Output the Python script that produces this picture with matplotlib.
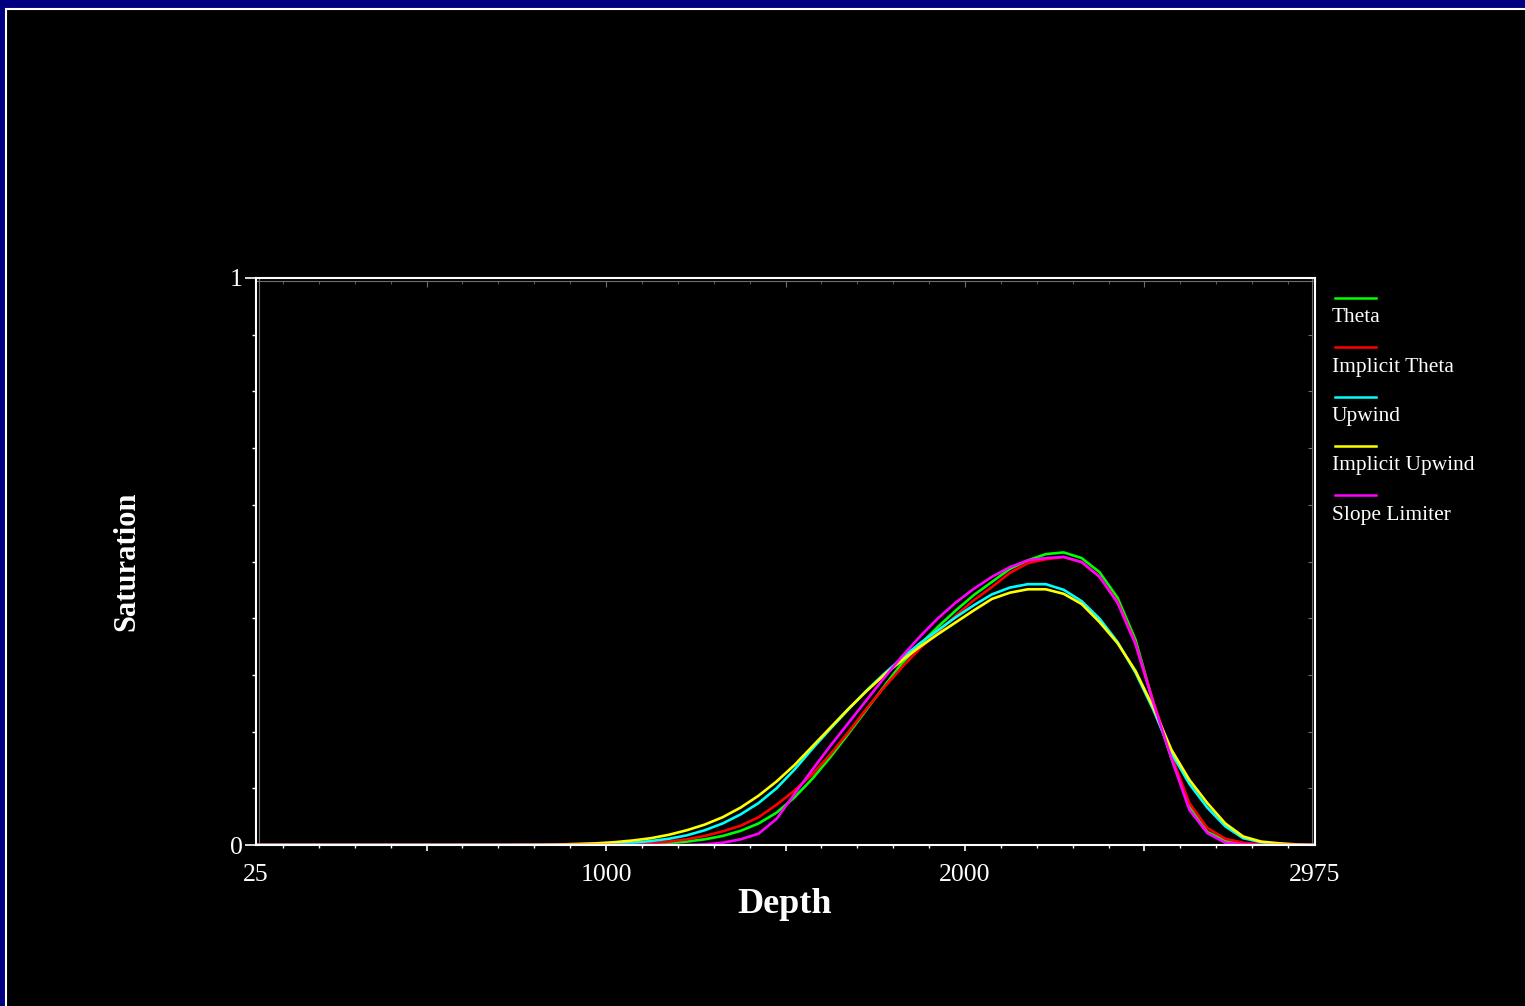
import matplotlib
matplotlib.use("Agg")
import matplotlib.pyplot as plt
from matplotlib.patches import Rectangle
from matplotlib.ticker import MultipleLocator, FixedLocator, NullFormatter

plt.rcParams['font.family'] = ['Liberation Serif', 'DejaVu Serif']

# Datos (profundidad cada 50)
depth = [25, 75, 125, 175, 225, 275, 325, 375, 425, 475,
         525, 575, 625, 675, 725, 775, 825, 875, 925, 975,
         1025, 1075, 1125, 1175, 1225, 1275, 1325, 1375, 1425, 1475,
         1525, 1575, 1625, 1675, 1725, 1775, 1825, 1875, 1925, 1975,
         2025, 2075, 2125, 2175, 2225, 2275, 2325, 2375, 2425, 2475,
         2525, 2575, 2625, 2675, 2725, 2775, 2825, 2875, 2925, 2975]

theta = [0, 0, 0, 0, 0, 0, 0, 0, 0, 0,
         0, 0, 0, 0, 0, 0, 0, 0, 0, 0,
         0, 0.0005, 0.001, 0.003, 0.006, 0.010, 0.016, 0.025, 0.038, 0.057,
         0.084, 0.117, 0.155, 0.196, 0.238, 0.280, 0.321, 0.354, 0.385, 0.414,
         0.441, 0.464, 0.487, 0.502, 0.513, 0.516, 0.506, 0.481, 0.436, 0.362,
         0.250, 0.153, 0.067, 0.023, 0.008, 0.002, 0, 0, 0, 0]

implicit_theta = [0, 0, 0, 0, 0, 0, 0, 0, 0, 0,
                  0, 0, 0, 0, 0, 0, 0, 0, 0, 0.0003,
                  0.0007, 0.0015, 0.003, 0.006, 0.010, 0.016, 0.024, 0.034, 0.049, 0.071,
                  0.096, 0.125, 0.160, 0.199, 0.240, 0.278, 0.314, 0.347, 0.376, 0.405,
                  0.432, 0.455, 0.480, 0.497, 0.504, 0.508, 0.499, 0.473, 0.429, 0.356,
                  0.252, 0.158, 0.074, 0.030, 0.011, 0.004, 0.001, 0, 0, 0]

upwind = [0, 0, 0, 0, 0, 0, 0, 0, 0, 0,
          0, 0, 0, 0, 0, 0, 0, 0, 0.0005, 0.001,
          0.002, 0.004, 0.007, 0.011, 0.017, 0.026, 0.038, 0.054, 0.074, 0.100,
          0.133, 0.170, 0.205, 0.239, 0.272, 0.302, 0.330, 0.356, 0.379, 0.402,
          0.423, 0.442, 0.454, 0.460, 0.460, 0.450, 0.430, 0.399, 0.358, 0.304,
          0.238, 0.162, 0.108, 0.066, 0.033, 0.012, 0.005, 0.001, 0, 0]

implicit_upwind = [0, 0, 0, 0, 0, 0, 0, 0, 0, 0,
                   0, 0, 0, 0, 0, 0.0002, 0.0005, 0.001, 0.002, 0.003,
                   0.005, 0.008, 0.012, 0.018, 0.026, 0.036, 0.049, 0.066, 0.087, 0.112,
                   0.141, 0.174, 0.207, 0.240, 0.271, 0.300, 0.326, 0.350, 0.372, 0.393,
                   0.414, 0.434, 0.445, 0.451, 0.451, 0.443, 0.425, 0.393, 0.356, 0.307,
                   0.242, 0.168, 0.115, 0.074, 0.038, 0.015, 0.006, 0.003, 0.001, 0]

slope_limiter = [0, 0, 0, 0, 0, 0, 0, 0, 0, 0,
                 0, 0, 0, 0, 0, 0, 0, 0, 0, 0,
                 0, 0, 0, 0, 0, 0.001, 0.004, 0.010, 0.020, 0.046,
                 0.090, 0.133, 0.175, 0.215, 0.255, 0.295, 0.333, 0.368, 0.400, 0.428,
                 0.452, 0.473, 0.490, 0.502, 0.506, 0.508, 0.499, 0.473, 0.427, 0.354,
                 0.250, 0.153, 0.062, 0.021, 0.004, 0.001, 0, 0, 0, 0]

series = [("Theta", theta, "#00ff00"),
          ("Implicit Theta", implicit_theta, "#ff0000"),
          ("Upwind", upwind, "#00ffff"),
          ("Implicit Upwind", implicit_upwind, "#ffff00"),
          ("Slope Limiter", slope_limiter, "#ff00ff")]

xticks_lab = [25, 1000, 2000, 2975]

fig = plt.figure(figsize=(15.25, 10.06), dpi=100)
fig.patch.set_facecolor("#000080")
# marco negro con borde blanco (solo se ven arriba e izquierda)
fig.add_artist(Rectangle((6 / 1525, -0.1), 1.2, 1.1 - 9 / 1006,
                         transform=fig.transFigure, facecolor="black",
                         edgecolor="white", lw=1.5, zorder=-10))

ax = fig.add_axes([256 / 1525, 1 - 845 / 1006, 1059 / 1525, 567 / 1006])
ax.set_facecolor("black")

for nombre, vals, color in series:
    ax.plot(depth, vals, color=color, lw=1.9, label=nombre)

ax.set_xlim(25, 2975)
ax.set_ylim(0, 1)

for s in ax.spines.values():
    s.set_color("white")
    s.set_linewidth(1.5)

# ticks eje x
ax.xaxis.set_major_locator(FixedLocator([500, 1000, 1500, 2000, 2500]))
ax.xaxis.set_minor_locator(MultipleLocator(100))
ax.xaxis.set_major_formatter(NullFormatter())
ax.tick_params(axis="x", which="major", length=4.5, width=1.2, color="white", direction="out")
ax.tick_params(axis="x", which="minor", length=2.5, width=1.0, color="white", direction="out")

# ticks eje y
ax.yaxis.set_major_locator(FixedLocator([0, 1]))
ax.yaxis.set_minor_locator(MultipleLocator(0.1))
ax.tick_params(axis="y", which="major", length=8, width=1.2, color="white",
               labelcolor="white", labelsize=18.5, pad=1.5)
ax.tick_params(axis="y", which="minor", length=3, width=1.0, color="white")

# etiquetas del eje x
sec = ax.secondary_xaxis("bottom")
sec.set_xticks(xticks_lab, [str(v) for v in xticks_lab])
sec.tick_params(length=0, labelcolor="white", labelsize=18.5, pad=13.5)
sec.spines["bottom"].set_visible(False)

# marco interior gris con ticks hacia adentro
gris = "#6e6e6e"
top_in = ax.secondary_xaxis(1 - 3 / 567)
top_in.xaxis.set_major_locator(FixedLocator([500, 1000, 1500, 2000, 2500]))
top_in.xaxis.set_minor_locator(MultipleLocator(100))
top_in.xaxis.set_major_formatter(NullFormatter())
top_in.tick_params(which="major", direction="in", length=4.5, color=gris)
top_in.tick_params(which="minor", direction="in", length=2.5, color=gris)
top_in.spines["top"].set_color(gris)
right_in = ax.secondary_yaxis(1 - 3 / 1059)
right_in.yaxis.set_major_locator(MultipleLocator(0.1))
right_in.yaxis.set_major_formatter(NullFormatter())
right_in.tick_params(direction="in", length=3, color=gris)
right_in.spines["right"].set_color(gris)
left_in = ax.secondary_yaxis(3 / 1059)
left_in.set_yticks([])
left_in.spines["left"].set_color(gris)

ax.set_xlabel("Depth", fontsize=26, fontweight="bold", color="white")
ax.xaxis.set_label_coords(0.4995, -0.076)
ax.set_ylabel("Saturation", fontsize=22, fontweight="bold", color="white")
ax.yaxis.set_label_coords(-0.108, 0.5)

# leyenda: linea arriba, texto abajo
handles, labels = ax.get_legend_handles_labels()
paso = 49.3 / 567
for i, (h, lab) in enumerate(zip(handles, labels)):
    y0 = 0.9647 - i * paso
    ax.plot([1.0189, 1.0576], [y0, y0], color=h.get_color(), lw=1.8,
            transform=ax.transAxes, clip_on=False)
    ax.text(1.016, y0 - 0.035, lab, color="white", fontsize=15.4,
            ha="left", va="center", transform=ax.transAxes)

fig.savefig("out.png", dpi=100, facecolor=fig.get_facecolor())
